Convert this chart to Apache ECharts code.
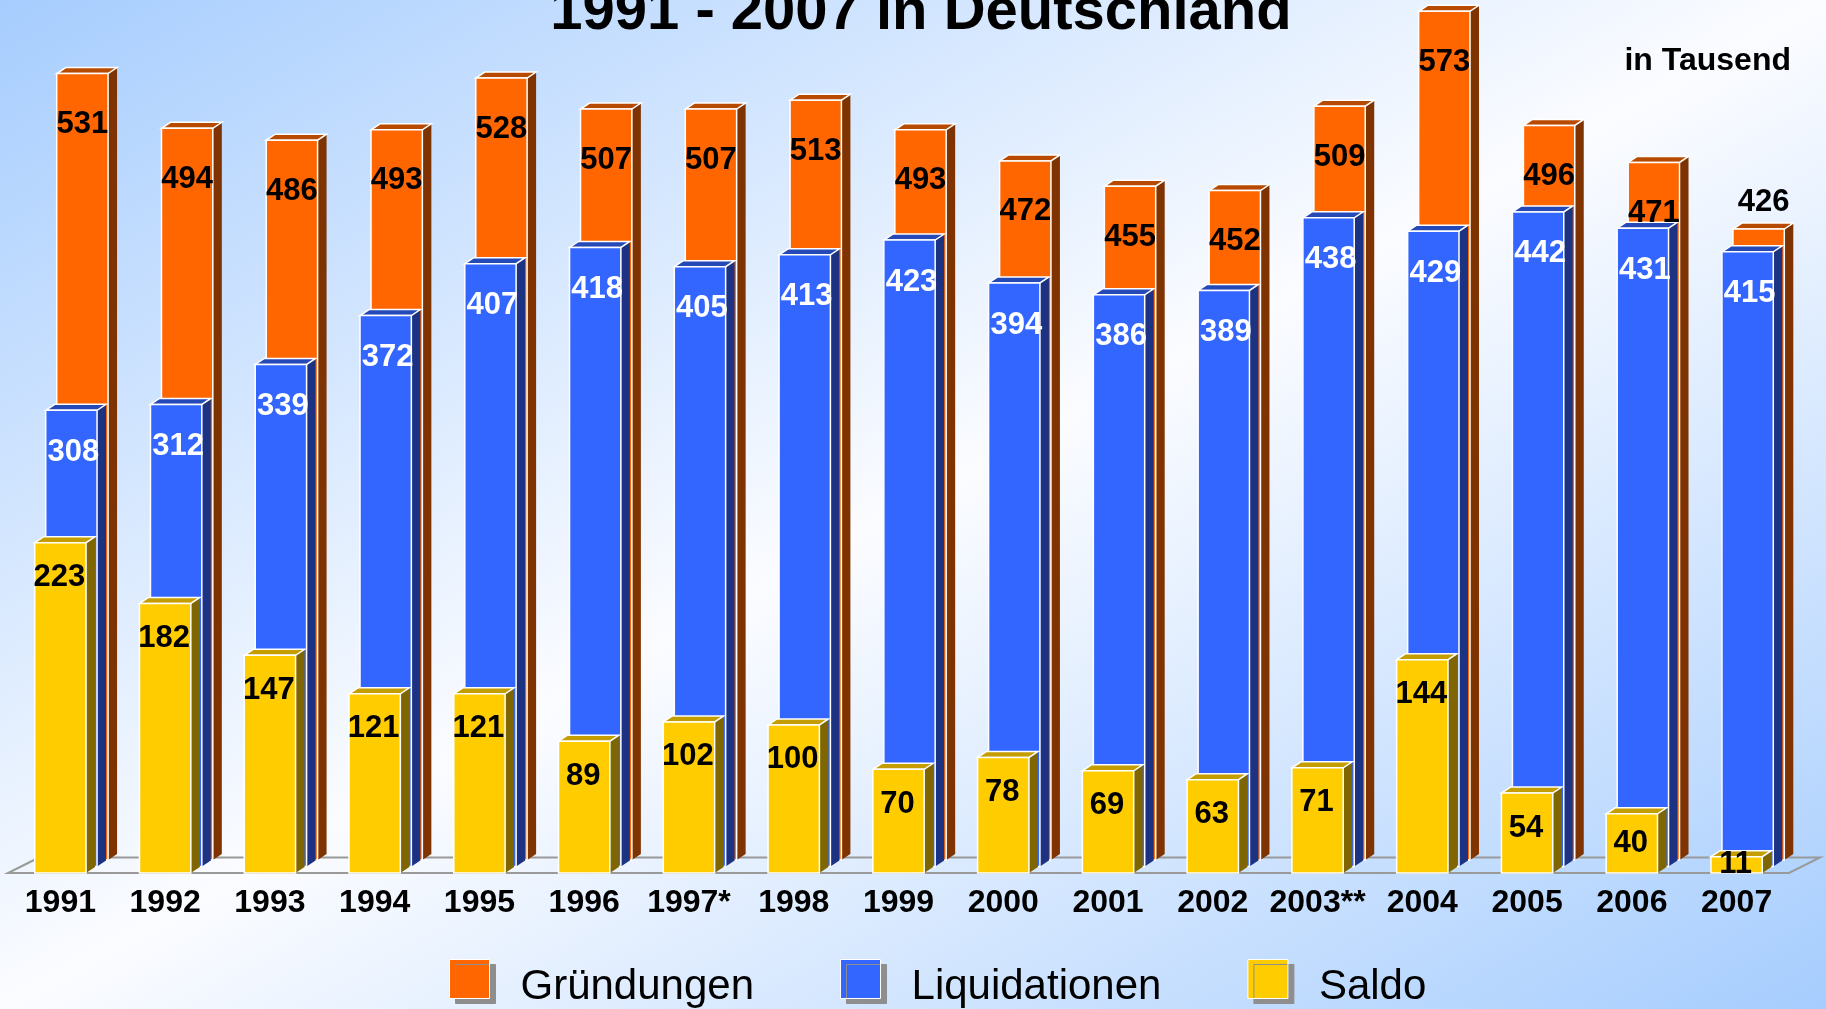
<!DOCTYPE html>
<html>
<head>
<meta charset="utf-8">
<script src="https://cdn.jsdelivr.net/npm/echarts@6/dist/echarts.min.js"></script>
<style>
  html, body { margin: 0; padding: 0; }
  #main { width: 1826px; height: 1009px; }
</style>
</head>
<body>
<div id="main"></div>
<script>
const years = ['1991', '1992', '1993', '1994', '1995', '1996', '1997*', '1998', '1999',
    '2000', '2001', '2002', '2003**', '2004', '2005', '2006', '2007'];
const gruendungen = [531, 494, 486, 493, 528, 507, 507, 513, 493, 472, 455, 452, 509, 573, 496, 471, 426];
const liquidationen = [308, 312, 339, 372, 407, 418, 405, 413, 423, 394, 386, 389, 438, 429, 442, 431, 415];
const saldo = [223, 182, 147, 121, 121, 89, 102, 100, 70, 78, 69, 63, 71, 144, 54, 40, 11];

const FONT = '"Liberation Sans", Arial, sans-serif';

// front / top / side colours per series
const COLORS = {
    orange: ['#FF6600', '#B84A00', '#7F3300'],
    blue: ['#3366FF', '#2649B8', '#1C3282'],
    yellow: ['#FFCC00', '#C49D00', '#806600']
};

// depth step between the three rows of bars, and depth of one bar
const ROW_DX = 11, ROW_DY = -6.5;
const SIDE_DX = 9, SIDE_DY = -6;

function barShape(k, api) {
    const i = api.value(0), v = api.value(1);
    const p0 = api.coord([i, 0]);
    const p1 = api.coord([i, v]);
    const w = api.size([1, 0])[0] * 0.49;
    const cx = p0[0] + k * ROW_DX;
    const x0 = cx - w / 2, x1 = cx + w / 2;
    const yb = p0[1] + k * ROW_DY;
    const yt = p1[1] + k * ROW_DY;
    return { i, v, cx, x0, x1, yb, yt, w };
}

function barFaces(b, colors) {
    return [
        {
            type: 'polygon',
            shape: { points: [[b.x1, b.yt], [b.x1 + SIDE_DX, b.yt + SIDE_DY], [b.x1 + SIDE_DX, b.yb + SIDE_DY], [b.x1, b.yb]] },
            style: { fill: colors[2] }
        },
        {
            type: 'polygon',
            shape: { points: [[b.x0, b.yt], [b.x0 + SIDE_DX, b.yt + SIDE_DY], [b.x1 + SIDE_DX, b.yt + SIDE_DY], [b.x1, b.yt]] },
            style: { fill: colors[1], stroke: '#fff', lineWidth: 1.5 }
        },
        {
            type: 'rect',
            shape: { x: b.x0, y: b.yt, width: b.w, height: b.yb - b.yt },
            style: { fill: colors[0], stroke: '#fff', lineWidth: 1.5 }
        }
    ];
}

function valueText(text, x, y, color) {
    return {
        type: 'text',
        z2: 10,
        style: {
            text: text, x: x, y: y,
            fill: color,
            fontFamily: FONT, fontWeight: 'bold', fontSize: 31,
            align: 'center', verticalAlign: 'middle'
        }
    };
}

function renderOrange(params, api) {
    const b = barShape(2, api);
    const blueTop = api.coord([b.i, liquidationen[b.i]])[1] + ROW_DY;
    const children = barFaces(b, COLORS.orange);
    if (blueTop - b.yt < 40) {
        children.push(valueText(String(b.v), b.cx + 5, b.yt - 27, '#000'));
    } else {
        children.push(valueText(String(b.v), b.cx, b.yt + 51, '#000'));
    }
    return { type: 'group', children: children };
}

function renderBlue(params, api) {
    const b = barShape(1, api);
    const children = barFaces(b, COLORS.blue);
    children.push(valueText(String(b.v), b.cx + 2, b.yt + 42, '#fff'));
    return { type: 'group', children: children };
}

function renderYellow(params, api) {
    const b = barShape(0, api);
    const children = barFaces(b, COLORS.yellow);
    const y = Math.min(b.yt + 35, (b.yt + b.yb) / 2);
    children.push(valueText(String(b.v), b.cx - 1, y, '#000'));
    return { type: 'group', children: children };
}

function renderFloor(params, api) {
    const cs = params.coordSys;
    const yf = cs.y + cs.height;
    const xl = cs.x, xr = cs.x + cs.width;
    const dx = 31, dy = -15.5;
    return {
        type: 'polyline',
        shape: { points: [[xl + dx, yf + dy], [xl, yf], [xr, yf], [xr + dx, yf + dy], [xl + dx, yf + dy]] },
        style: { fill: null, stroke: '#9a9a9a', lineWidth: 2 }
    };
}

const chart = echarts.init(document.getElementById('main'));

chart.setOption({
    animation: false,
    backgroundColor: new echarts.graphic.LinearGradient(0, 0, 0.468, 1.532, [
        { offset: 0, color: '#A6CDFE' },
        { offset: 0.5, color: '#FBFCFF' },
        { offset: 1, color: '#A6CDFE' }
    ]),
    color: [COLORS.orange[0], COLORS.blue[0], COLORS.yellow[0]],
    graphic: [
        {
            type: 'text',
            style: {
                text: '1991 - 2007 in Deutschland',
                x: 921, y: 13,
                fontFamily: FONT, fontWeight: 'bold', fontSize: 58,
                fill: '#000', align: 'center', verticalAlign: 'middle'
            }
        },
        {
            type: 'text',
            style: {
                text: 'in Tausend',
                x: 1791, y: 61,
                fontFamily: FONT, fontWeight: 'bold', fontSize: 32,
                fill: '#000', align: 'right', verticalAlign: 'middle'
            }
        }
    ],
    legend: {
        data: [
            { name: 'Gründungen', icon: 'rect' },
            { name: 'Liquidationen', icon: 'rect' },
            { name: 'Saldo', icon: 'rect' }
        ],
        left: 449,
        top: 959,
        padding: 0,
        itemWidth: 40,
        itemHeight: 39,
        itemGap: 86,
        selectedMode: false,
        formatter: '{t|{name}}',
        itemStyle: {
            borderColor: '#fff',
            borderWidth: 1,
            shadowColor: '#8e8e8e',
            shadowOffsetX: 6,
            shadowOffsetY: 5,
            shadowBlur: 0
        },
        textStyle: {
            fontFamily: FONT,
            fontSize: 42,
            color: '#000',
            rich: {
                t: {
                    fontFamily: FONT,
                    fontSize: 42,
                    color: '#000',
                    padding: [16, 0, 0, 26]
                }
            }
        }
    },
    grid: {
        left: 8,
        right: 37,
        top: 14,
        bottom: 136
    },
    xAxis: {
        type: 'category',
        data: years,
        axisLine: { show: false },
        axisTick: { show: false },
        axisLabel: {
            interval: 0,
            margin: 30,
            verticalAlign: 'middle',
            color: '#000',
            fontFamily: FONT,
            fontWeight: 'bold',
            fontSize: 32
        }
    },
    yAxis: {
        type: 'value',
        min: 0,
        max: 580,
        show: false,
        splitLine: { show: false }
    },
    series: [
        {
            name: 'floor',
            type: 'custom',
            renderItem: renderFloor,
            silent: true,
            data: [[0, 0]],
            encode: { x: 0, y: 1 }
        },
        {
            name: 'Gründungen',
            type: 'custom',
            renderItem: renderOrange,
            itemStyle: { color: COLORS.orange[0] },
            data: gruendungen.map((v, i) => [i, v]),
            encode: { x: 0, y: 1 }
        },
        {
            name: 'Liquidationen',
            type: 'custom',
            renderItem: renderBlue,
            itemStyle: { color: COLORS.blue[0] },
            data: liquidationen.map((v, i) => [i, v]),
            encode: { x: 0, y: 1 }
        },
        {
            name: 'Saldo',
            type: 'custom',
            renderItem: renderYellow,
            itemStyle: { color: COLORS.yellow[0] },
            data: saldo.map((v, i) => [i, v]),
            encode: { x: 0, y: 1 }
        }
    ]
});
</script>
</body>
</html>
